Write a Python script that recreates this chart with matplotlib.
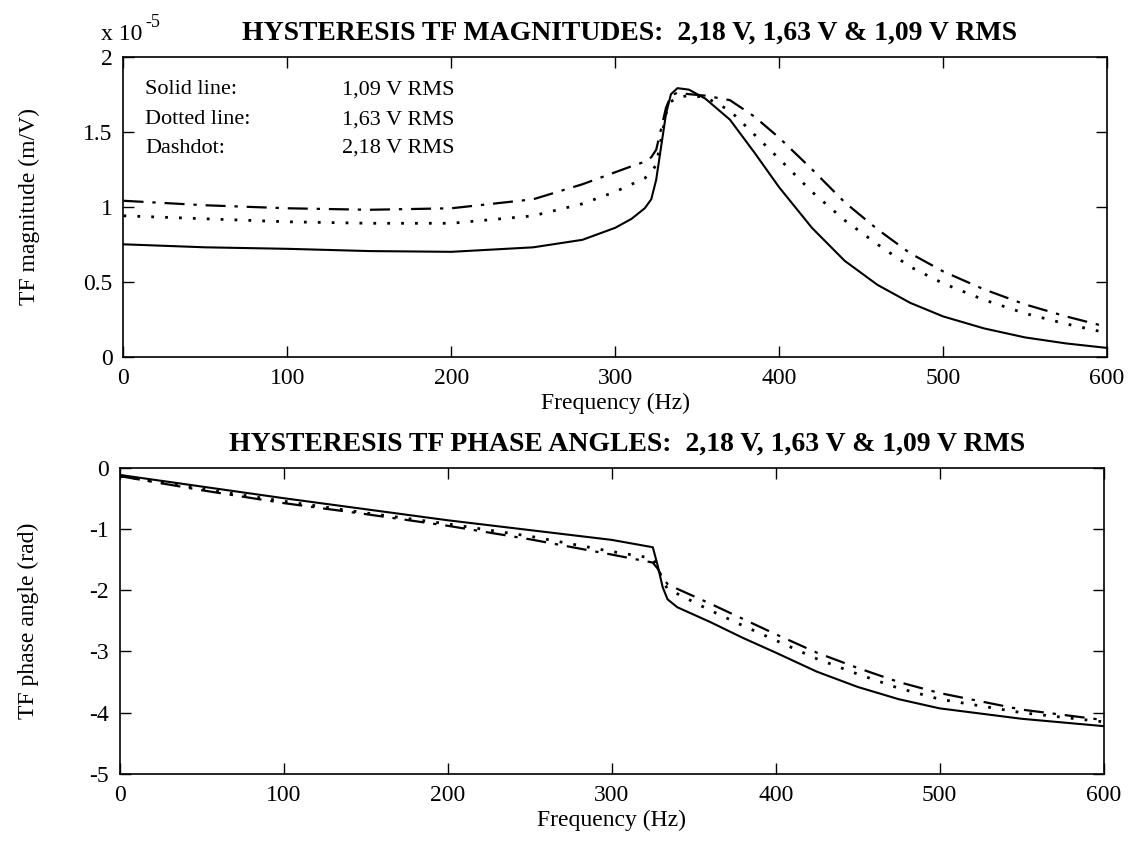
import matplotlib
matplotlib.use("Agg")
import matplotlib.pyplot as plt

plt.rcParams["font.family"] = ["Liberation Serif", "DejaVu Serif"]
plt.rcParams["axes.unicode_minus"] = False

# magnitud (x 1e-5 m/V)
f_mag = [0, 50, 100, 150, 200, 250, 280, 300, 310, 318, 322, 325, 328, 331, 334,
         338, 345, 355, 370, 385, 400, 420, 440, 460, 480, 500, 525, 550, 575, 600]
mag_109 = [0.75, 0.73, 0.72, 0.705, 0.70, 0.73, 0.78, 0.86, 0.92, 0.99, 1.05, 1.18,
           1.40, 1.62, 1.75, 1.79, 1.78, 1.72, 1.58, 1.36, 1.13, 0.86, 0.64, 0.48,
           0.36, 0.27, 0.19, 0.13, 0.09, 0.06]
mag_163 = [0.94, 0.92, 0.90, 0.89, 0.89, 0.94, 1.02, 1.10, 1.15, 1.19, 1.23, 1.28,
           1.45, 1.62, 1.70, 1.73, 1.74, 1.73, 1.64, 1.48, 1.32, 1.10, 0.91, 0.75,
           0.60, 0.49, 0.38, 0.29, 0.22, 0.16]
mag_218 = [1.04, 1.01, 0.99, 0.98, 0.99, 1.05, 1.15, 1.23, 1.27, 1.30, 1.33, 1.38,
           1.52, 1.66, 1.74, 1.76, 1.75, 1.74, 1.71, 1.60, 1.46, 1.25, 1.03, 0.85,
           0.69, 0.57, 0.45, 0.35, 0.27, 0.20]

# fase (rad)
f_fase = [0, 50, 100, 150, 200, 250, 300, 325, 328, 331, 334, 340, 360, 380, 400,
          425, 450, 475, 500, 550, 600]
fase_109 = [-0.12, -0.31, -0.50, -0.68, -0.86, -1.02, -1.18, -1.30, -1.60, -1.95,
            -2.15, -2.28, -2.52, -2.78, -3.02, -3.33, -3.58, -3.78, -3.93, -4.10, -4.22]
fase_163 = [-0.14, -0.35, -0.55, -0.74, -0.92, -1.12, -1.37, -1.48, -1.62, -1.85,
            -1.98, -2.06, -2.33, -2.58, -2.82, -3.12, -3.37, -3.60, -3.78, -4.00, -4.15]
fase_218 = [-0.14, -0.37, -0.58, -0.76, -0.95, -1.17, -1.42, -1.55, -1.65, -1.80,
            -1.90, -1.98, -2.22, -2.47, -2.72, -3.02, -3.27, -3.50, -3.68, -3.95, -4.12]

x_ticks = [0, 100, 200, 300, 400, 500, 600]
mag_ticks = [0, 0.5, 1, 1.5, 2]
mag_labels = ["0", "0.5", "1", "1.5", "2"]
fase_ticks = [0, -1, -2, -3, -4, -5]

titulo_mag = "HYSTERESIS TF MAGNITUDES:  2,18 V, 1,63 V & 1,09 V RMS"
titulo_fase = "HYSTERESIS TF PHASE ANGLES:  2,18 V, 1,63 V & 1,09 V RMS"

fig = plt.figure(figsize=(11.33, 8.58), dpi=100)
ax1 = fig.add_axes([0.109, 0.584, 0.868, 0.350])
ax2 = fig.add_axes([0.106, 0.098, 0.868, 0.357])

estilo_solido = dict(color="black", lw=1.5, linestyle="-")
estilo_punteado = dict(color="black", lw=2.0, linestyle=(0, (1, 4)))
estilo_rayapunto = dict(color="black", lw=1.6, linestyle=(0, (9, 4, 1.5, 4)))

ax1.plot(f_mag, mag_218, **estilo_rayapunto)
ax1.plot(f_mag, mag_163, **estilo_punteado)
ax1.plot(f_mag, mag_109, **estilo_solido)

ax2.plot(f_fase, fase_218, **estilo_rayapunto)
ax2.plot(f_fase, fase_163, **estilo_punteado)
ax2.plot(f_fase, fase_109, **estilo_solido)

for ax in (ax1, ax2):
    ax.set_xlim(0, 600)
    ax.set_xticks(x_ticks)
    ax.tick_params(direction="in", top=True, right=True, length=8, width=1,
                   labelsize=17, pad=8)
    for s in ax.spines.values():
        s.set_linewidth(1.2)
    ax.set_xlabel("Frequency (Hz)", fontsize=17, labelpad=3)

ax1.set_ylim(0, 2)
ax1.set_yticks(mag_ticks)
ax1.set_yticklabels(mag_labels)
ax1.set_ylabel("TF magnitude (m/V)", fontsize=17)
ax1.yaxis.set_label_coords(-0.085, 0.5)
ax1.set_title(titulo_mag, fontsize=20, fontweight="bold", pad=12, x=0.515)
ax1.text(0.019, 1.04, "x 10", transform=ax1.transAxes,
         fontsize=17, ha="right", va="bottom")
ax1.text(0.022, 1.085, "-5", transform=ax1.transAxes,
         fontsize=13, ha="left", va="bottom")

ax1.text(0.022, 0.89, "Solid line:", transform=ax1.transAxes, fontsize=16, va="center")
ax1.text(0.022, 0.79, "Dotted line:", transform=ax1.transAxes, fontsize=16, va="center")
ax1.text(0.022, 0.695, "Dashdot:", transform=ax1.transAxes, fontsize=16, va="center")
ax1.text(0.222, 0.89, "1,09 V RMS", transform=ax1.transAxes, fontsize=16, va="center")
ax1.text(0.222, 0.79, "1,63 V RMS", transform=ax1.transAxes, fontsize=16, va="center")
ax1.text(0.222, 0.695, "2,18 V RMS", transform=ax1.transAxes, fontsize=16, va="center")

ax2.set_ylim(-5, 0)
ax2.set_yticks(fase_ticks)
ax2.set_ylabel("TF phase angle (rad)", fontsize=17)
ax2.yaxis.set_label_coords(-0.082, 0.5)
ax2.set_title(titulo_fase, fontsize=20, fontweight="bold", pad=12, x=0.515)

fig.savefig("out.png", dpi=100)
